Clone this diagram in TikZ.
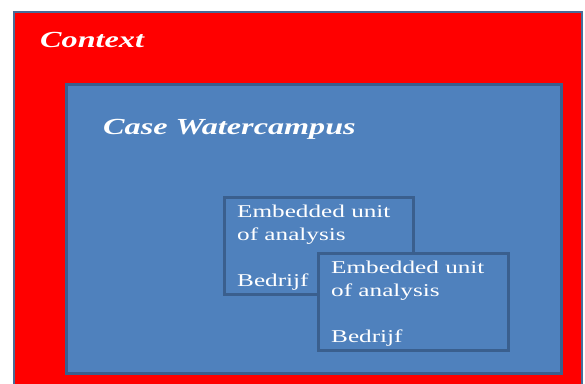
\documentclass[tikz,border=0pt]{standalone}
\usepackage{fontspec}
\usepackage{xcolor}
\usepackage{tikz}
\usetikzlibrary{positioning}
\newfontfamily\wideserif[FakeStretch=1.4]{Liberation Serif}
\definecolor{contextRed}{HTML}{FF0000}
\definecolor{caseBlue}{HTML}{4F81BD}
\definecolor{edgeBlue}{HTML}{3A5F8E}
\definecolor{frameBlue}{HTML}{4A6C98}
\tikzset{
  contextbox/.style={
    rectangle,
    draw=frameBlue,
    fill=contextRed,
    line width=2pt,
    anchor=north west,
    inner sep=0pt
  },
  casebox/.style={
    rectangle,
    draw=edgeBlue,
    fill=caseBlue,
    line width=2.5pt,
    anchor=north west,
    inner sep=0pt
  },
  unitbox/.style={
    rectangle,
    draw=edgeBlue,
    fill=caseBlue,
    line width=2.5pt,
    anchor=north west,
    minimum width=189pt,
    minimum height=97pt,
    inner sep=0pt
  },
  heading/.style={
    text=white,
    anchor=base west,
    inner sep=0pt,
    font=\wideserif\fontsize{23}{27}\selectfont\bfseries\itshape
  },
  unittext/.style={
    text=white,
    anchor=north west,
    inner sep=0pt,
    align=left,
    font=\wideserif\fontsize{18}{23}\selectfont
  }
}
\begin{document}
\begin{tikzpicture}[x=1pt,y=-1pt]
  \useasboundingbox (0,0) rectangle (585,383);
  \clip (0,0) rectangle (585,383);
  \node[contextbox,minimum width=568pt,minimum height=390pt] (context) at (13,11) {};
  \node[heading] (contextlabel) at (40,47) {Context};
  \node[casebox,minimum width=495pt,minimum height=289pt] (case) at (65,83) {};
  \node[heading] (caselabel) at (103,134) {Case Watercampus};
  % two overlapping embedded units
  \node[unitbox] (unitA) at (223,196) {};
  \node[unittext] (unitAtext) at (237,205) {Embedded unit\\of analysis\\[23pt]Bedrijf};
  \node[unitbox,minimum width=190pt] (unitB) at (317,252) {};
  \node[unittext] (unitBtext) at (331,261) {Embedded unit\\of analysis\\[23pt]Bedrijf};
\end{tikzpicture}
\end{document}
